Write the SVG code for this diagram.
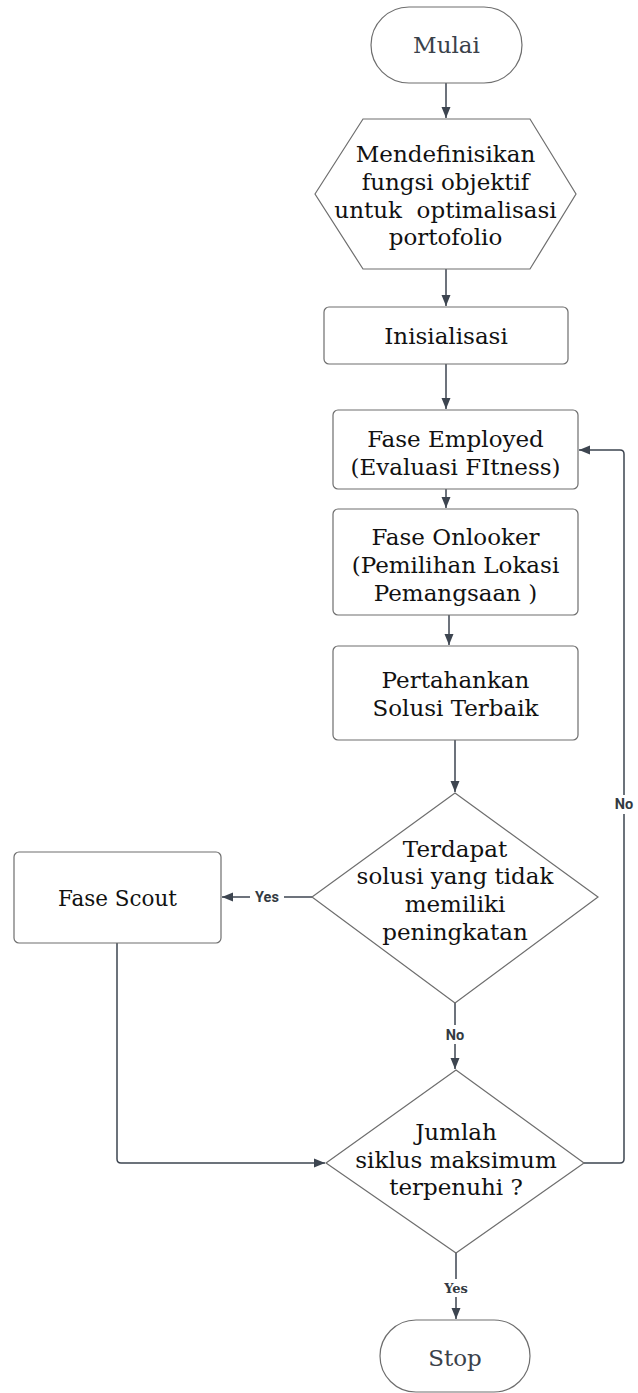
<svg xmlns="http://www.w3.org/2000/svg" width="638" height="1393" viewBox="0 0 638 1393">
<style>
.shape{fill:#fff;stroke:#6e6e6e;stroke-width:1.2}
.t{font-family:"DejaVu Serif","Liberation Serif",serif;font-size:23px;fill:#111;text-anchor:middle}
.tg{fill:#3a414a}
.conn{fill:none;stroke:#3d4550;stroke-width:1.5;stroke-linejoin:round}
.lbl{font-family:Roboto,"Liberation Sans",sans-serif;font-weight:bold;font-size:14.5px;fill:#333a42;text-anchor:middle}
.lbls{font-family:"DejaVu Serif",serif;font-weight:bold;font-size:13px;fill:#333a42;text-anchor:middle}
</style>
<defs>
<marker id="arr" markerUnits="userSpaceOnUse" markerWidth="12" markerHeight="12" viewBox="0 0 12 12" refX="11" refY="6" orient="auto">
<path d="M0,1.5 L11,6 L0,10.5 Z" fill="#3d4550"/>
</marker>
</defs>
<rect width="638" height="1393" fill="#fff"/>
<g id="connectors">
<path class="conn" d="M446,83 V118" marker-end="url(#arr)"/>
<path class="conn" d="M446,269 V306" marker-end="url(#arr)"/>
<path class="conn" d="M446,364 V409" marker-end="url(#arr)"/>
<path class="conn" d="M446,489 V508" marker-end="url(#arr)"/>
<path class="conn" d="M449,615 V645" marker-end="url(#arr)"/>
<path class="conn" d="M455,740 V792" marker-end="url(#arr)"/>
<path class="conn" d="M312,897 H222" marker-end="url(#arr)"/>
<path class="conn" d="M455,1003 V1069" marker-end="url(#arr)"/>
<path class="conn" d="M117,943 V1159 Q117,1163 121,1163 H325" marker-end="url(#arr)"/>
<path class="conn" d="M584,1163 H620 Q624,1163 624,1159 V454 Q624,450 620,450 H579" marker-end="url(#arr)"/>
<path class="conn" d="M456,1253 V1319" marker-end="url(#arr)"/>
<rect x="250" y="888" width="34" height="18" fill="#fff"/>
<text class="lbl" x="267" y="902">Yes</text>
<rect x="443" y="1025" width="24" height="19" fill="#fff"/>
<text class="lbl" x="455" y="1040">No</text>
<rect x="612" y="795" width="24" height="19" fill="#fff"/>
<text class="lbl" x="624" y="809">No</text>
<rect x="439" y="1279" width="34" height="18" fill="#fff"/>
<text class="lbls" x="456" y="1293">Yes</text>
</g>
<g id="mulai">
<rect class="shape" x="371" y="7" width="151" height="76" rx="38" ry="38"/>
<text class="t tg" x="446.5" y="53">Mulai</text>
</g>
<g id="definisi">
<polygon class="shape" points="315,194 363,119 530,119 576,194 530,269 363,269"/>
<text class="t" x="445.5" y="162">Mendefinisikan</text>
<text class="t" x="445.5" y="190">fungsi objektif</text>
<text class="t" x="445.5" y="218" xml:space="preserve">untuk  optimalisasi</text>
<text class="t" x="445.5" y="245">portofolio</text>
</g>
<g id="inisialisasi">
<rect class="shape" x="324" y="307" width="244" height="57" rx="5"/>
<text class="t" x="446" y="344">Inisialisasi</text>
</g>
<g id="employed">
<rect class="shape" x="333" y="410" width="245" height="79" rx="5"/>
<text class="t" x="455.5" y="447">Fase Employed</text>
<text class="t" x="455.5" y="475">(Evaluasi FItness)</text>
</g>
<g id="onlooker">
<rect class="shape" x="333" y="509" width="245" height="106" rx="5"/>
<text class="t" x="455.5" y="545">Fase Onlooker</text>
<text class="t" x="455.5" y="573">(Pemilihan Lokasi</text>
<text class="t" x="455.5" y="601">Pemangsaan )</text>
</g>
<g id="pertahankan">
<rect class="shape" x="333" y="646" width="245" height="94" rx="5"/>
<text class="t" x="455.5" y="688">Pertahankan</text>
<text class="t" x="455.5" y="716">Solusi Terbaik</text>
</g>
<g id="terdapat">
<polygon class="shape" points="455,793 598,897 455,1003 312,897"/>
<text class="t" x="455" y="857">Terdapat</text>
<text class="t" x="455" y="884">solusi yang tidak</text>
<text class="t" x="455" y="912">memiliki</text>
<text class="t" x="455" y="940">peningkatan</text>
</g>
<g id="scout">
<rect class="shape" x="14" y="852" width="207" height="91" rx="5"/>
<text class="t" x="117.5" y="906" textLength="119" lengthAdjust="spacingAndGlyphs">Fase Scout</text>
</g>
<g id="jumlah">
<polygon class="shape" points="456,1070 584,1163 456,1253 326,1163"/>
<text class="t" x="456" y="1140">Jumlah</text>
<text class="t" x="456" y="1168">siklus maksimum</text>
<text class="t" x="456" y="1195">terpenuhi ?</text>
</g>
<g id="stop">
<rect class="shape" x="380" y="1320" width="150" height="72" rx="36" ry="36"/>
<text class="t tg" x="455" y="1366">Stop</text>
</g>
</svg>
